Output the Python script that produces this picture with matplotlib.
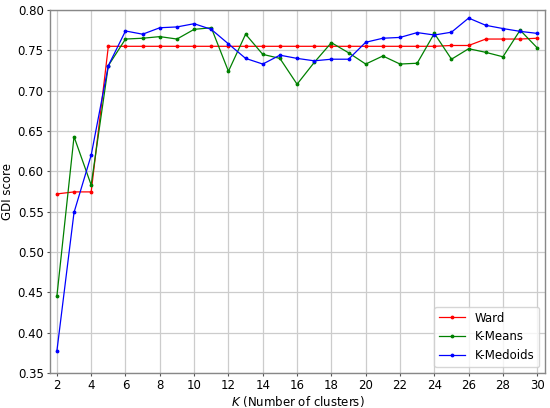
import numpy as np
import matplotlib

matplotlib.use("Agg")

import matplotlib.pyplot as plt

# ====
# DATA
# ====
k_values = list(range(2, 31))

ward = [0.572, 0.5745, 0.5745, 0.755, 0.755, 0.755, 0.755, 0.755, 0.755, 0.755,
        0.755, 0.755, 0.755, 0.755, 0.755, 0.755, 0.755, 0.755, 0.755, 0.755,
        0.755, 0.755, 0.755, 0.756, 0.756, 0.764, 0.764, 0.764, 0.765]

kmeans = [0.445, 0.643, 0.583, 0.731, 0.764, 0.765, 0.767, 0.764, 0.776, 0.778,
          0.724, 0.770, 0.745, 0.740, 0.708, 0.735, 0.7595, 0.747, 0.733, 0.743,
          0.733, 0.734, 0.771, 0.739, 0.752, 0.7475, 0.742, 0.775, 0.753]

kmedoids = [0.377, 0.549, 0.620, 0.731, 0.774, 0.770, 0.778, 0.779, 0.783, 0.776,
            0.758, 0.740, 0.733, 0.744, 0.740, 0.737, 0.739, 0.739, 0.760, 0.765,
            0.766, 0.772, 0.769, 0.7725, 0.790, 0.781, 0.777, 0.7735, 0.771]

# ====
# PLOT
# ====
fig = plt.figure(figsize=(5.5, 4.08), dpi=100)
ax = fig.add_axes([50 / 550, 1 - 373 / 408, (545 - 50) / 550, (373 - 10) / 408])

ax.plot(k_values, ward, color="red", marker=".", markersize=3.5, linewidth=0.9, label="Ward")
ax.plot(k_values, kmeans, color="green", marker=".", markersize=3.5, linewidth=0.9, label="K-Means")
ax.plot(k_values, kmedoids, color="blue", marker=".", markersize=3.5, linewidth=0.9, label="K-Medoids")

ax.set_xlim(1.6, 30.45)
ax.set_ylim(0.35, 0.80)
ax.set_xticks(range(2, 31, 2))
ax.set_yticks(np.arange(0.35, 0.801, 0.05))
ax.tick_params(labelsize=8.5, length=2.5, width=0.8, color="#555555", pad=2)
ax.grid(True, color="#cccccc", linewidth=0.9)
ax.set_axisbelow(True)

for side in ["top", "right", "left", "bottom"]:
    ax.spines[side].set_color("#888888")
    ax.spines[side].set_linewidth(1)

ax.set_xlabel("$K$ (Number of clusters)", fontsize=8.5, labelpad=1)
ax.set_ylabel("GDI score", fontsize=8.5, labelpad=3)
ax.legend(loc="lower right", fontsize=8.5, handlelength=2.2)

fig.savefig("out.png", dpi=100)
